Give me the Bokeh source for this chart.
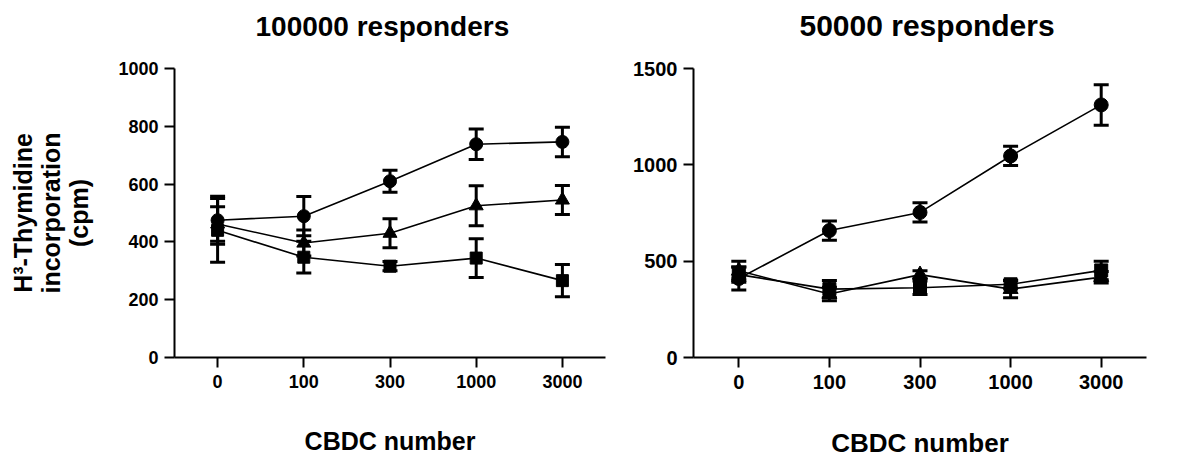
from bokeh.plotting import figure
from bokeh.models import ColumnDataSource, Whisker, TeeHead, FixedTicker, Range1d, FactorRange, Title
from bokeh.layouts import row
from bokeh.embed import file_html
from bokeh.resources import INLINE

# ---- data ----
cbdc_numbers = ["0", "100", "300", "1000", "3000"]

# 100000 responders
circle_100k = [475, 489, 610, 738, 746]
circle_100k_err = [83, 68, 38, 53, 51]
triangle_100k = [462, 396, 430, 525, 545]
triangle_100k_err = [60, 45, 50, 69, 50]
square_100k = [440, 347, 316, 344, 266]
square_100k_err = [110, 55, 16, 67, 56]

# 50000 responders
circle_50k = [410, 659, 753, 1046, 1311]
circle_50k_err = [60, 50, 50, 50, 105]
triangle_50k = [450, 330, 430, 355, 417]
triangle_50k_err = [50, 35, 20, 45, 30]
square_50k = [430, 355, 362, 380, 452]
square_50k_err = [40, 45, 35, 20, 48]

y_ticks_100k = [0, 200, 400, 600, 800, 1000]
y_ticks_50k = [0, 500, 1000, 1500]

FONT = "Liberation Sans"


def make_panel(title, series, y_max, y_ticks, border_left, frame_width, border_right,
               ylabel=None, title_offset=0, title_size="28px", title_lh=1.2,
               tick_size="18px", xlabel_size="25px"):
    p = figure(
        x_range=FactorRange(factors=cbdc_numbers),
        y_range=Range1d(0, y_max),
        frame_width=frame_width,
        frame_height=289,
        min_border_left=border_left,
        min_border_right=border_right,
        min_border_top=68,
        min_border_bottom=96,
        output_backend="svg",
        toolbar_location=None,
    )
    p.outline_line_color = None
    p.xgrid.visible = False
    p.ygrid.visible = False
    p.background_fill_color = "white"
    p.border_fill_color = "white"

    # invisible spacer between the frame and the title
    p.add_layout(Title(text=" ", text_font_size="18px", standoff=0), "above")
    p.add_layout(Title(text=title, align="left", offset=title_offset,
                       text_font=FONT, text_font_size=title_size,
                       text_line_height=title_lh,
                       text_font_style="bold", text_color="black"), "above")

    for ax in (p.xaxis[0], p.yaxis[0]):
        ax.axis_line_width = 2
        ax.axis_line_color = "black"
        ax.major_tick_line_width = 2
        ax.major_tick_line_color = "black"
        ax.major_tick_out = 10
        ax.major_tick_in = 0
        ax.minor_tick_line_color = None
        ax.major_label_text_font = FONT
        ax.major_label_text_font_size = tick_size
        ax.major_label_text_font_style = "bold"
        ax.major_label_text_color = "black"
        ax.axis_label_text_font = FONT
        ax.axis_label_text_font_style = "bold"
        ax.axis_label_text_color = "black"

    p.yaxis[0].ticker = FixedTicker(ticks=y_ticks)
    p.yaxis[0].major_label_standoff = 6
    p.xaxis[0].major_label_standoff = 7
    p.xaxis[0].axis_label = "CBDC number"
    p.xaxis[0].axis_label_text_font_size = xlabel_size
    p.xaxis[0].axis_label_text_line_height = 1.0
    p.xaxis[0].axis_label_standoff = 36

    if ylabel:
        p.yaxis[0].axis_label = ylabel
        p.yaxis[0].axis_label_text_font_size = "25px"
        p.yaxis[0].axis_label_text_line_height = 1.0
        p.yaxis[0].axis_label_standoff = 22

    for marker, vals, errs, size in series:
        src = ColumnDataSource(dict(
            x=cbdc_numbers, y=vals,
            upper=[v + e for v, e in zip(vals, errs)],
            lower=[v - e for v, e in zip(vals, errs)],
        ))
        p.line("x", "y", source=src, line_color="black", line_width=1.6)
        w = Whisker(
            source=src, base="x", upper="upper", lower="lower", dimension="height",
            line_color="black", line_width=3,
            upper_head=TeeHead(size=15, line_width=3, line_color="black"),
            lower_head=TeeHead(size=15, line_width=3, line_color="black"),
        )
        p.add_layout(w)
        p.scatter("x", "y", source=src, marker=marker, size=size,
                  fill_color="black", line_color="black")
    return p


left = make_panel(
    "100000 responders",
    [("circle", circle_100k, circle_100k_err, 13),
     ("triangle", triangle_100k, triangle_100k_err, 14),
     ("square", square_100k, square_100k_err, 12)],
    1000, y_ticks_100k, 174, 431, 13,
    ylabel="H³-Thymidine\nincorporation\n(cpm)", title_offset=81,
)
right = make_panel(
    "50000 responders",
    [("circle", circle_50k, circle_50k_err, 14),
     ("triangle", triangle_50k, triangle_50k_err, 15),
     ("square", square_50k, square_50k_err, 13)],
    1500, y_ticks_50k, 75, 453, 22,
    title_offset=106, title_size="30px", title_lh=1.1, tick_size="20px",
    xlabel_size="26px",
)

layout = row(left, right)
open("out.html", "w").write(file_html(layout, INLINE))
